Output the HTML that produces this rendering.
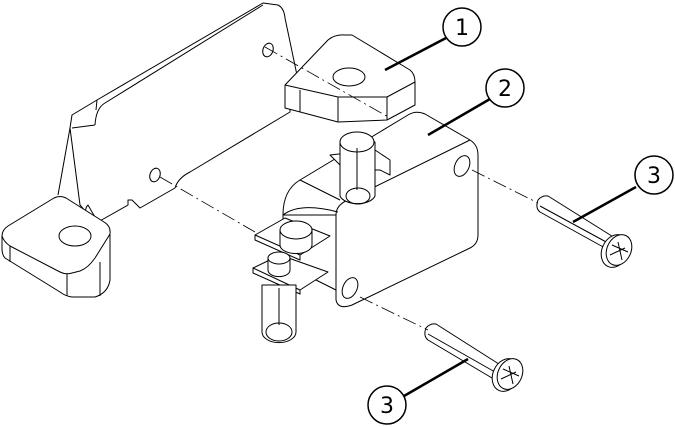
<!DOCTYPE html>
<html><head><style>
html,body{margin:0;padding:0;background:#fff;width:675px;height:427px;overflow:hidden}
svg{display:block}
text{font-family:"DejaVu Sans","Liberation Sans",sans-serif;font-size:22px;fill:#000}
</style></head><body>
<svg width="675" height="427" viewBox="0 0 675 427" xmlns="http://www.w3.org/2000/svg">
<g fill="none" stroke="#000" stroke-width="1" stroke-linejoin="round">
<!-- bracket -->
<path fill="#fff" d="M72,115 L97,100 L263,3 L278,5 Q284,8 285,18 L298,80 L290,85 L290,112 L190,172 Q178,178 175,188 L140,208 L132,200 L128,200 L128,205 L98,222 L92,212 L88,205 Q85,208 86,212 L80,205 L70,128 Z"/>
<path d="M72,128 L95,125 M95,125 Q96,108 105,103 L263,5 M97,100 L96,110 M70,128 L58,195"/>
<!-- foot -->
<path fill="#fff" d="M8,226 L54,198 Q60,195 66,198 L104,222 Q111,226 110,234 L110,280 Q108,293 95,297 L72,297 Q65,296 60,292 L5,258 Q2,255 2,248 L2,236 Q2,230 8,226 Z"/>
<path d="M2,236 Q4,242 10,246 L60,272 Q66,275 72,273 L80,271 Q88,268 95,258 L110,234 M67,274 L67,296 M100,262 L100,296 M10,246 L10,262"/>
<ellipse cx="75" cy="236" rx="16" ry="10"/>
<ellipse cx="268" cy="50" rx="5" ry="7" transform="rotate(20 268 50)"/>
<ellipse cx="155" cy="175" rx="5" ry="7" transform="rotate(20 155 175)"/>
<!-- nut 1 -->
<path fill="#fff" d="M285,85 L328,40 Q335,34 345,35 L352,35 L410,70 Q415,74 415,82 L415,105 L387,120 L338,122 L285,108 Z"/>
<path d="M285,85 L338,97 L387,97 L415,82 M338,97 L338,122 M387,97 L387,120 M300,90 L300,112"/>
<ellipse cx="349" cy="77" rx="16" ry="9"/>
<!-- switch body -->
<path fill="#fff" d="M283,215 Q283,190 300,180 L408,115 Q416,110 425,114 L470,140 Q478,145 478,155 L478,235 Q478,244 470,248 L352,305 Q338,310 336,300 L336,290 L300,272 L283,262 Z"/>
<path d="M283,215 L336,215 L336,300 M336,215 Q336,205 348,200 L470,140 M283,215 Q300,202 338,212 M300,180 L340,200"/>
<ellipse cx="462" cy="166" rx="7" ry="11" transform="rotate(25 462 166)"/>
<ellipse cx="350" cy="288" rx="7" ry="11" transform="rotate(25 350 288)"/>
<!-- top terminal -->
<path fill="#fff" d="M330,155 L375,150 L390,160 L390,175 L380,170 L345,170 Z"/>
<path fill="#fff" d="M340,142 L340,196 A18,10 0 0 0 375,196 L375,142 Z"/>
<ellipse cx="357" cy="142" rx="17" ry="10" fill="#fff"/>
<ellipse cx="358" cy="196" rx="12" ry="8"/>
<line x1="357" y1="148" x2="357" y2="190"/>
<!-- bottom terminal plates -->
<path fill="#fff" d="M255,235 L285,218 L330,236 L300,255 Z M255,235 L255,240 L300,260 L300,255"/>
<path fill="#fff" d="M280,230 L280,245 A15,8 0 0 0 312,245 L312,230 Z"/>
<ellipse cx="296" cy="230" rx="16" ry="9" fill="#fff"/>
<path fill="#fff" d="M253,268 L280,255 L328,272 L300,290 Z M253,268 L253,273 L300,294 L300,290"/>
<path fill="#fff" d="M268,258 L268,270 A10,6 0 0 0 290,270 L290,258 Z"/>
<ellipse cx="279" cy="258" rx="11" ry="6" fill="#fff"/>
<path fill="#fff" d="M262,285 L262,332 A16,10 0 0 0 296,332 L296,285 Z"/>
<ellipse cx="279" cy="332" rx="13" ry="9"/>
<line x1="279" y1="288" x2="279" y2="325"/>
<!-- screw top -->
<path fill="#fff" d="M538,200 Q535,208 540,212 L605,248 L615,238 L548,196 Q542,195 538,200 Z"/>
<line x1="540" y1="206" x2="608" y2="243"/>
<ellipse cx="615" cy="251" rx="13" ry="17" transform="rotate(25 615 251)" fill="#fff"/>
<ellipse cx="619" cy="250" rx="12" ry="16" transform="rotate(25 619 250)" fill="#fff"/>
<path d="M612,245 L628,252 M618,242 L622,260 M610,255 L625,248"/>
<!-- screw bottom -->
<path fill="#fff" d="M426,328 Q423,336 428,340 L492,378 L502,366 L436,324 Q430,323 426,328 Z"/>
<line x1="428" y1="334" x2="495" y2="372"/>
<ellipse cx="506" cy="375" rx="13" ry="17" transform="rotate(25 506 375)" fill="#fff"/>
<ellipse cx="510" cy="374" rx="12" ry="16" transform="rotate(25 510 374)" fill="#fff"/>
<path d="M503,369 L519,376 M509,366 L513,384 M501,379 L516,372"/>
</g>
<!-- center lines -->
<g stroke="#000" stroke-width="0.8" stroke-dasharray="14,4,2,4" fill="none">
<line x1="265" y1="47" x2="390" y2="118"/>
<line x1="160" y1="177" x2="255" y2="232"/>
<line x1="360" y1="297" x2="428" y2="330"/>
<line x1="472" y1="170" x2="538" y2="203"/>
</g>
<!-- leaders -->
<g stroke="#000" stroke-width="2.5">
<line x1="446" y1="38" x2="385" y2="70"/>
<line x1="490" y1="99" x2="428" y2="135"/>
<line x1="636" y1="187" x2="573" y2="222"/>
<line x1="404" y1="396" x2="468" y2="359"/>
</g>
<g fill="#fff" stroke="#000" stroke-width="1.5">
<circle cx="462" cy="27" r="19"/>
<circle cx="505" cy="88" r="19"/>
<circle cx="654" cy="175" r="19"/>
<circle cx="387" cy="405" r="19"/>
</g>
<text x="462" y="35" text-anchor="middle">1</text>
<text x="505" y="96" text-anchor="middle">2</text>
<text x="654" y="183" text-anchor="middle">3</text>
<text x="387" y="413" text-anchor="middle">3</text>
</svg>
</body></html>
